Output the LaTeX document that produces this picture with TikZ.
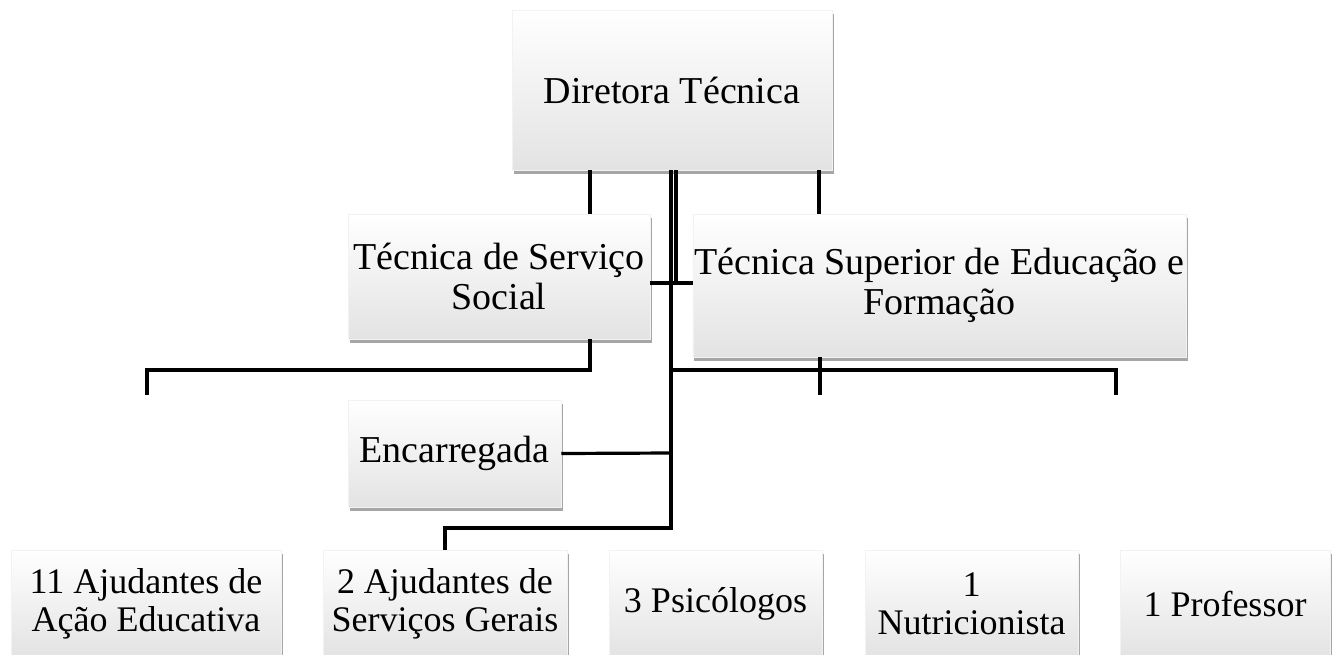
\documentclass[tikz,border=0pt]{standalone}
\usepackage{fontspec}
\setmainfont{Liberation Serif}
\usetikzlibrary{shadows}
\tikzset{
  orgbox/.style={rectangle, inner sep=2pt, align=center,
    draw=black!5, line width=0.5pt,
    top color=white, middle color=white, bottom color=black!11,
    drop shadow={shadow xshift=1.5pt, shadow yshift=-4pt, fill=black, opacity=0.35},
    font=\fontsize{38}{40}\selectfont},
  lowbox/.style={orgbox, minimum height=107pt, font=\fontsize{36}{38}\selectfont},
  link/.style={line width=3.2pt, black}
}
\begin{document}
\begin{tikzpicture}[x=1pt,y=-1pt]
\clip (0,0) rectangle (1336,654);
\fill[white] (0,0) rectangle (1336,654);

\coordinate (tlA) at (590,170);
\coordinate (tlB) at (819,170);
\coordinate (c1) at (671,170);
\coordinate (c2) at (676,170);
\coordinate (h1) at (671,283);
\coordinate (h2) at (676,283);
\coordinate (junc) at (671,370);
\coordinate (encj) at (671,453);
\coordinate (low) at (671,528);
\coordinate (lowL) at (445,528);
\coordinate (lftL) at (147,370);
\coordinate (lftE) at (147,395);
\coordinate (tssj) at (590,370);
\coordinate (rgtR) at (1116,370);
\coordinate (rgtE) at (1116,395);
\coordinate (midE) at (820,395);

\node[orgbox, minimum width=320pt, minimum height=160pt] (top) at (672,90) {Diretora Técnica};
\node[orgbox, minimum width=302pt, minimum height=125pt] (tss) at (499,276.5) {Técnica de Serviço\\Social};
\node[orgbox, minimum width=493pt, minimum height=143pt] (tsef) at (939.5,285.5) {Técnica Superior de Educação e\\Formação};
\node[orgbox, minimum width=213pt, minimum height=107pt] (enc) at (454.5,453.5) {Encarregada};
\node[lowbox, minimum width=270pt] (b1) at (146,603.5) {11 Ajudantes de\\Ação Educativa};
\node[lowbox, minimum width=244pt] (b2) at (445,603.5) {2 Ajudantes de\\Serviços Gerais};
\node[lowbox, minimum width=213pt] (b3) at (715.5,603.5) {3 Psicólogos};
\node[lowbox, minimum width=213pt] (b4) at (971.5,603.5) {1\\Nutricionista};
\node[lowbox, minimum width=210pt] (b5) at (1225,603.5) {1 Professor};

\draw[link] (tlA) -- (tlA |- tss.north);
\draw[link] (tlB) -- (tlB |- tsef.north);
\draw[link] (c1) -- (low) -- (lowL) -- (lowL |- b2.north);
\draw[link] (c2) -- (h2);
\draw[link] (tss.east |- h1) -- (tsef.west |- h1);
\draw[link] (tssj |- tss.south) -- (tssj) -- (lftL) -- (lftE);
\draw[link] (midE |- tsef.south) -- (midE);
\draw[link] (junc) -- (rgtR) -- (rgtE);
\draw[link] (enc.east) -- (encj);
\end{tikzpicture}
\end{document}
